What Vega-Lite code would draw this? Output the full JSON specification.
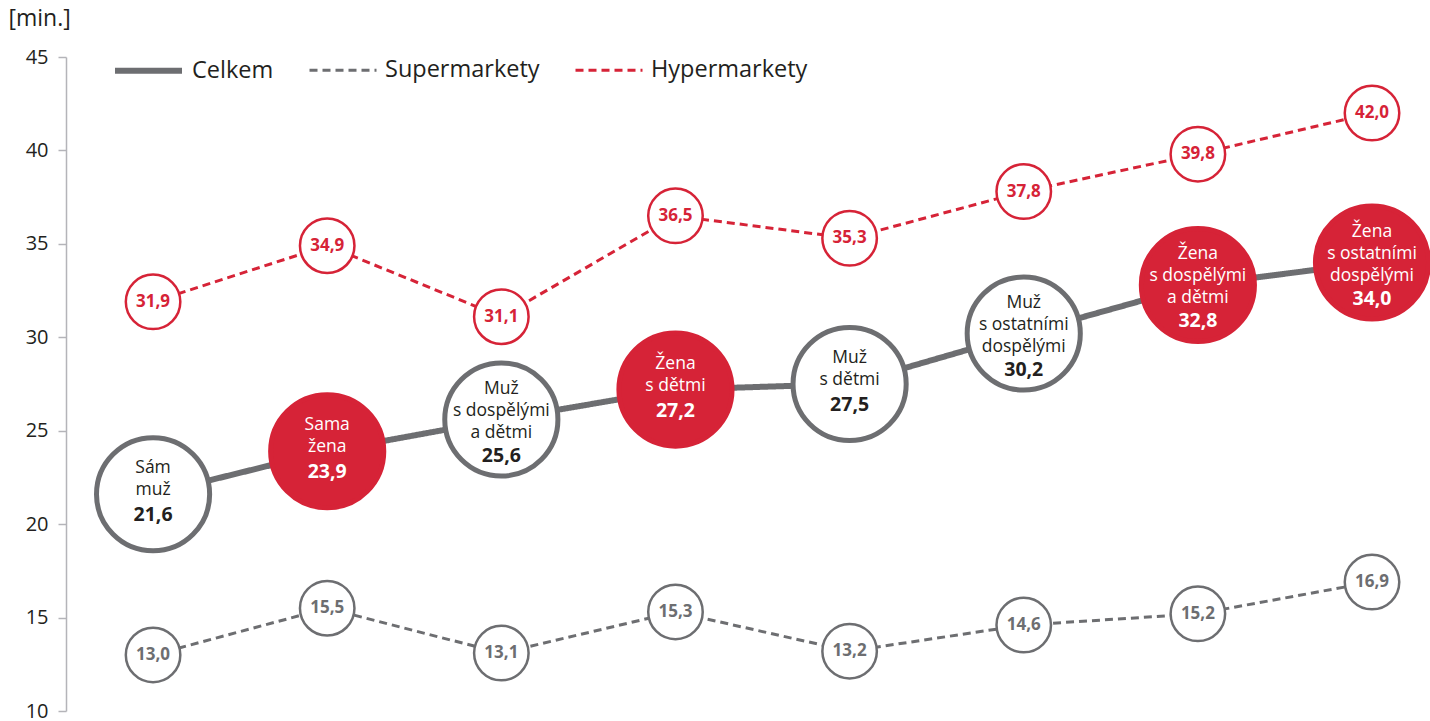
{
  "$schema": "https://vega.github.io/schema/vega-lite/v6.json",
  "width": 1364,
  "height": 654,
  "autosize": {"type": "none"},
  "padding": {"left": 66, "top": 57, "right": 0, "bottom": 10},
  "background": "white",
  "config": {
    "view": {"stroke": null},
    "font": "Open Sans",
    "locale": {"number": {"decimal": ",", "thousands": " ", "grouping": [3], "currency": ["", " Kč"]}}
  },
  "datasets": {
    "serie": [
      {"kat": 1, "serie": "Celkem", "min": 21.6},
      {"kat": 2, "serie": "Celkem", "min": 23.9},
      {"kat": 3, "serie": "Celkem", "min": 25.6},
      {"kat": 4, "serie": "Celkem", "min": 27.2},
      {"kat": 5, "serie": "Celkem", "min": 27.5},
      {"kat": 6, "serie": "Celkem", "min": 30.2},
      {"kat": 7, "serie": "Celkem", "min": 32.8},
      {"kat": 8, "serie": "Celkem", "min": 34.0},
      {"kat": 1, "serie": "Supermarkety", "min": 13.0},
      {"kat": 2, "serie": "Supermarkety", "min": 15.5},
      {"kat": 3, "serie": "Supermarkety", "min": 13.1},
      {"kat": 4, "serie": "Supermarkety", "min": 15.3},
      {"kat": 5, "serie": "Supermarkety", "min": 13.2},
      {"kat": 6, "serie": "Supermarkety", "min": 14.6},
      {"kat": 7, "serie": "Supermarkety", "min": 15.2},
      {"kat": 8, "serie": "Supermarkety", "min": 16.9},
      {"kat": 1, "serie": "Hypermarkety", "min": 31.9},
      {"kat": 2, "serie": "Hypermarkety", "min": 34.9},
      {"kat": 3, "serie": "Hypermarkety", "min": 31.1},
      {"kat": 4, "serie": "Hypermarkety", "min": 36.5},
      {"kat": 5, "serie": "Hypermarkety", "min": 35.3},
      {"kat": 6, "serie": "Hypermarkety", "min": 37.8},
      {"kat": 7, "serie": "Hypermarkety", "min": 39.8},
      {"kat": 8, "serie": "Hypermarkety", "min": 42.0}
    ],
    "kat": [
      {"kat": 1, "popis": ["Sám", "muž"], "pohlavi": "M", "min": 21.6, "radky": 2},
      {"kat": 2, "popis": ["Sama", "žena"], "pohlavi": "Z", "min": 23.9, "radky": 2},
      {"kat": 3, "popis": ["Muž", "s dospělými", "a dětmi"], "pohlavi": "M", "min": 25.6, "radky": 3},
      {"kat": 4, "popis": ["Žena", "s dětmi"], "pohlavi": "Z", "min": 27.2, "radky": 2},
      {"kat": 5, "popis": ["Muž", "s dětmi"], "pohlavi": "M", "min": 27.5, "radky": 2},
      {"kat": 6, "popis": ["Muž", "s ostatními", "dospělými"], "pohlavi": "M", "min": 30.2, "radky": 3},
      {"kat": 7, "popis": ["Žena", "s dospělými", "a dětmi"], "pohlavi": "Z", "min": 32.8, "radky": 3},
      {"kat": 8, "popis": ["Žena", "s ostatními", "dospělými"], "pohlavi": "Z", "min": 34.0, "radky": 3}
    ]
  },
  "encoding": {
    "x": {"field": "kat", "type": "quantitative", "scale": {"domain": [0.5, 8.333], "nice": false, "zero": false}, "axis": null},
    "y": {
      "field": "min", "type": "quantitative",
      "scale": {"domain": [10, 45], "nice": false, "zero": false},
      "axis": {
        "title": "[min.]", "titleAngle": 0, "titleAlign": "left", "titleBaseline": "middle",
        "titleX": -58, "titleY": -39, "titleFontSize": 23, "titleFontWeight": "normal", "titleColor": "#231f20", "titleFont": "Open Sans",
        "values": [10, 15, 20, 25, 30, 35, 40, 45], "grid": false,
        "domainColor": "#b4b4b9", "domainWidth": 1.5, "tickColor": "#b4b4b9", "tickSize": 8, "tickWidth": 1.5,
        "labelFontSize": 20, "labelColor": "#231f20", "labelPadding": 10, "labelFont": "Open Sans"
      }
    }
  },
  "layer": [
    {
      "data": {"name": "serie"},
      "mark": {"type": "line"},
      "encoding": {
        "stroke": {
          "field": "serie", "type": "nominal",
          "scale": {"domain": ["Celkem", "Supermarkety", "Hypermarkety"], "range": ["#6d6e71", "#6d6e71", "#d62337"]},
          "legend": {"title": null, "orient": "none", "legendX": 46, "legendY": -23, "direction": "horizontal", "symbolType": "stroke", "symbolSize": 4489, "labelFontSize": 23.5, "labelColor": "#231f20", "labelFont": "Open Sans", "labelOffset": 7, "columnPadding": 29}
        },
        "strokeDash": {
          "field": "serie", "type": "nominal",
          "scale": {"domain": ["Celkem", "Supermarkety", "Hypermarkety"], "range": [[1, 0], [8, 5], [8, 5]]},
          "legend": {"title": null, "orient": "none", "legendX": 46, "legendY": -23, "direction": "horizontal", "symbolType": "stroke", "symbolSize": 4489, "labelFontSize": 23.5, "labelColor": "#231f20", "labelFont": "Open Sans", "labelOffset": 7, "columnPadding": 29}
        },
        "strokeWidth": {
          "field": "serie", "type": "nominal",
          "scale": {"type": "ordinal", "domain": ["Celkem", "Supermarkety", "Hypermarkety"], "range": [6, 3, 3]},
          "legend": {"title": null, "orient": "none", "legendX": 46, "legendY": -23, "direction": "horizontal", "symbolType": "stroke", "symbolSize": 4489, "labelFontSize": 23.5, "labelColor": "#231f20", "labelFont": "Open Sans", "labelOffset": 7, "columnPadding": 29}
        }
      }
    },
    {
      "data": {"name": "serie"},
      "transform": [{"filter": "datum.serie !== 'Celkem'"}],
      "mark": {"type": "point", "shape": "circle", "filled": false, "fill": "white", "fillOpacity": 1, "opacity": 1, "size": 2970, "strokeWidth": 2.5},
      "encoding": {
        "stroke": {"condition": {"test": "datum.serie === 'Hypermarkety'", "value": "#d62337"}, "value": "#6d6e71"}
      }
    },
    {
      "data": {"name": "serie"},
      "transform": [{"filter": "datum.serie !== 'Celkem'"}],
      "mark": {"type": "text", "fontSize": 17, "fontWeight": "bold", "baseline": "middle", "align": "center", "font": "Open Sans"},
      "encoding": {
        "text": {"field": "min", "type": "quantitative", "format": ".1f"},
        "color": {"condition": {"test": "datum.serie === 'Hypermarkety'", "value": "#d62337"}, "value": "#6d6e71"}
      }
    },
    {
      "data": {"name": "kat"},
      "mark": {"type": "point", "shape": "circle", "filled": false, "fillOpacity": 1, "opacity": 1, "size": 12800, "strokeWidth": 5},
      "encoding": {
        "fill": {"condition": {"test": "datum.pohlavi === 'Z'", "value": "#d62337"}, "value": "white"},
        "stroke": {"condition": {"test": "datum.pohlavi === 'Z'", "value": "#d62337"}, "value": "#6d6e71"}
      }
    },
    {
      "data": {"name": "kat"},
      "transform": [{"filter": "datum.radky === 2"}],
      "mark": {"type": "text", "fontSize": 17.5, "lineHeight": 22, "baseline": "middle", "align": "center", "dy": -26, "font": "Open Sans"},
      "encoding": {
        "text": {"field": "popis"},
        "color": {"condition": {"test": "datum.pohlavi === 'Z'", "value": "white"}, "value": "#231f20"}
      }
    },
    {
      "data": {"name": "kat"},
      "transform": [{"filter": "datum.radky === 2"}],
      "mark": {"type": "text", "fontSize": 19.5, "fontWeight": "bold", "baseline": "middle", "align": "center", "dy": 21, "font": "Open Sans"},
      "encoding": {
        "text": {"field": "min", "type": "quantitative", "format": ".1f"},
        "color": {"condition": {"test": "datum.pohlavi === 'Z'", "value": "white"}, "value": "#231f20"}
      }
    },
    {
      "data": {"name": "kat"},
      "transform": [{"filter": "datum.radky === 3"}],
      "mark": {"type": "text", "fontSize": 17.5, "lineHeight": 22, "baseline": "middle", "align": "center", "dy": -31, "font": "Open Sans"},
      "encoding": {
        "text": {"field": "popis"},
        "color": {"condition": {"test": "datum.pohlavi === 'Z'", "value": "white"}, "value": "#231f20"}
      }
    },
    {
      "data": {"name": "kat"},
      "transform": [{"filter": "datum.radky === 3"}],
      "mark": {"type": "text", "fontSize": 19.5, "fontWeight": "bold", "baseline": "middle", "align": "center", "dy": 36, "font": "Open Sans"},
      "encoding": {
        "text": {"field": "min", "type": "quantitative", "format": ".1f"},
        "color": {"condition": {"test": "datum.pohlavi === 'Z'", "value": "white"}, "value": "#231f20"}
      }
    }
  ]
}
